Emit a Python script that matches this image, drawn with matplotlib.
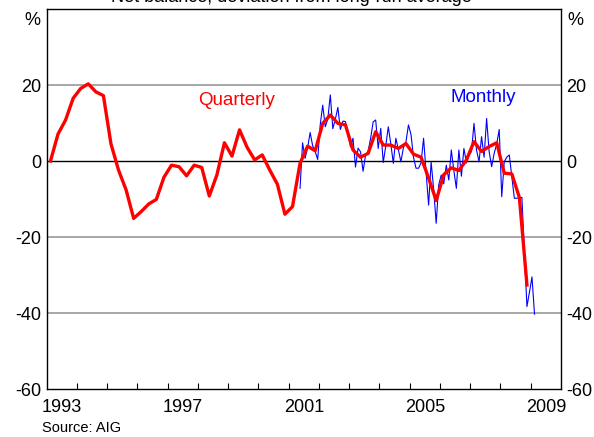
import numpy as np
import matplotlib
matplotlib.use('Agg')
import matplotlib.pyplot as plt

plt.rcParams['font.family'] = ['Liberation Sans', 'DejaVu Sans']

# ================================
# data, net balance deviation from long-run average, %

# quarterly, starting Q1 1993
quarterly = [0, 7.1, 10.8, 16.5, 19.1, 20.3, 18.2, 17.2,
             4.5, -2.4, -7.6, -15.1, -13.3, -11.3, -10.1, -4.3,
             -1.1, -1.5, -3.9, -1.1, -1.7, -9.2, -3.7, 4.8,
             1.3, 8.2, 3.6, 0.3, 1.6, -2.4, -6.1, -14.0,
             -12.0, -0.6, 3.9, 2.7, 9.9, 12.1, 9.9, 9.5,
             2.9, 1.0, 2.0, 7.7, 4.2, 4.2, 3.3, 4.6,
             1.8, 1.0, -4.5, -10.4, -3.6, -1.8, -2.5, 0.3,
             5.1, 2.5, 3.8, 4.8, -3.2, -3.4, -9.6, -32.6]

# monthly, starting May 2001
monthly = [-7.2, 4.8, 0.7, 3.5, 7.5, 4.0, 2.5, 0.4,
           9.5, 14.7, 9.0, 11.0, 17.4, 8.5, 11.0, 14.1,
           8.3, 10.5, 10.4, 7.0, 3.7, 6.0, -1.6, 3.4,
           2.4, -2.7, 1.6, 2.5, 6.0, 10.3, 10.8, 3.3,
           8.6, -0.4, 4.0, 9.0, 4.5, -0.6, 6.0, 3.0,
           -0.2, 3.5, 5.0, 9.5, 7.0, 1.0, -1.9, -1.9,
           -0.5, 6.0, -3.0, -11.6, -0.2, -7.5, -16.4, -6.3,
           -3.7, -6.0, -1.1, -5.0, 2.9, -2.5, -7.2, 2.9,
           -4.0, 3.3, -0.5, 1.5, 2.5, 9.9, 2.9, -0.2,
           6.4, 1.0, 11.2, 2.5, -1.5, 2.0, 4.5, 8.3,
           -9.4, -0.2, 1.0, 1.6, -4.1, -9.8, -9.8, -9.6,
           -9.6, -24.0, -38.3, -34.5, -30.5, -40.3]

year_labels = ['1993', '1997', '2001', '2005', '2009']
y_ticks = [-60, -40, -20, 0, 20]

# mid-quarter / mid-month positions in decimal years
t_q = 1993.125 + 0.25 * np.arange(len(quarterly))
t_m = 2001.375 + np.arange(len(monthly)) / 12

# ================================
# plot

fig = plt.figure(figsize=(5.94, 4.37), dpi=100)
ax = fig.add_axes([0.0786, 0.1098, 0.8658, 0.8696])

for v in [20, -20, -40]:
    ax.axhline(v, color='#a0a0a0', lw=1.3, zorder=1)
ax.axhline(0, color='black', lw=1.0, zorder=1)

ax.plot(t_m, monthly, color='#0000ff', lw=0.8, zorder=2)
ax.plot(t_q, quarterly, color='#ff0000', lw=2.4, zorder=3)

ax.set_xlim(1993, 2010)
ax.set_ylim(-60, 40)

# year ticks at year boundaries, labels centred in the year
ax.set_xticks(np.arange(1994, 2010))
ax.set_xticklabels([])
ax.set_xticks([int(y) + 0.5 for y in year_labels], minor=True)
ax.set_xticklabels(year_labels, minor=True)
ax.tick_params(axis='x', which='major', direction='in', length=4, width=0.8, top=False)
ax.tick_params(axis='x', which='minor', length=0, labelsize=13, pad=7)

ax.set_yticks(y_ticks)
ax.set_yticklabels([str(v) for v in y_ticks])
ax.tick_params(axis='y', length=0, labelsize=13, pad=4, labelright=True)

for s in ax.spines.values():
    s.set_linewidth(1.0)
    s.set_color('black')

ax.text(1999.26, 16.0, 'Quarterly', color='#ff0000', fontsize=13.5, ha='center', va='center')
ax.text(2007.42, 16.8, 'Monthly', color='#0000ff', fontsize=13.5, ha='center', va='center')

fig.text(0.055, 0.953, '%', fontsize=13, ha='center', va='center')
fig.text(0.968, 0.953, '%', fontsize=13, ha='center', va='center')
# title sits mostly above the picture, as in the original
fig.text(0.49, 1 - 2.5 / 437, 'Net balance, deviation from long-run average',
         fontsize=13, ha='center', va='baseline')
fig.text(0.071, 0.021, 'Source: AIG', fontsize=10.5, ha='left', va='center')

fig.savefig('out.png', dpi=100)
